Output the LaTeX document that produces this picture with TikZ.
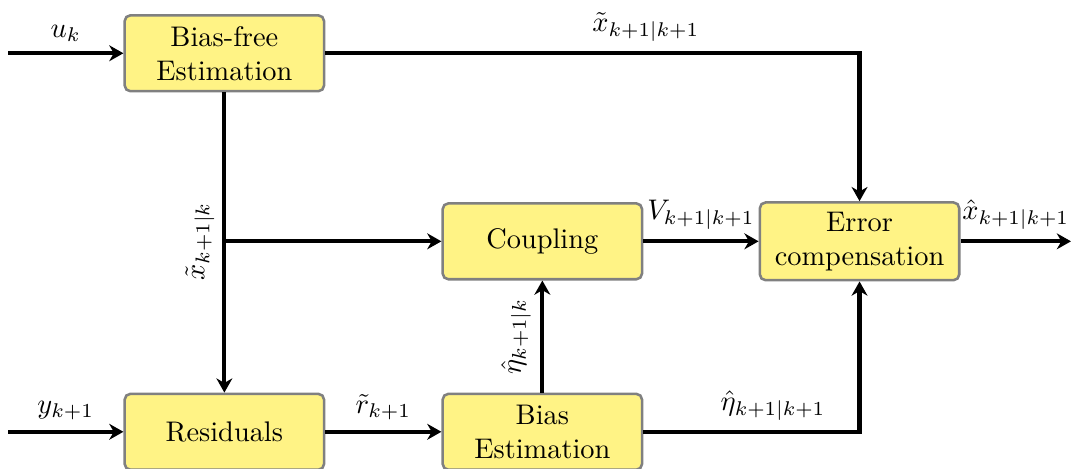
\documentclass[tikz,border=0pt]{standalone}
\usepackage{amsmath}
\usetikzlibrary{arrows.meta}
\definecolor{boxyellow}{RGB}{255,243,133}
\tikzset{block/.style = {draw=gray, line width=0.9pt, fill=boxyellow, rounded corners=2pt, minimum width=2.47cm, minimum height=0.94cm, align=center}}
\tikzset{flow/.style = {line width=1.45pt, -{Stealth[length=5pt, width=5.6pt, inset=1.6pt]}}}

\begin{document}
\begin{tikzpicture}
    \useasboundingbox (0,0) rectangle (13.27,-5.80);
    % blocks
    \node[block] (bf) at (2.78,-0.66) {Bias-free\\Estimation};
    \node[block] (cp) at (6.72,-2.99) {Coupling};
    \node[block] (ec) at (10.65,-2.99) {Error\\compensation};
    \node[block] (res) at (2.78,-5.35) {Residuals};
    \node[block] (be) at (6.72,-5.35) {Bias\\Estimation};
    % free ends
    \coordinate (u) at (0.1,-0.66);
    \coordinate (y) at (0.1,-5.35);
    \coordinate (out) at (13.27,-2.99);
    \coordinate (br) at (bf.south |- cp.west);
    % connections
    \draw[flow] (u) -- node[above] {$u_k$} (bf);
    \draw[flow] (y) -- node[above] {$y_{k+1}$} (res);
    \draw[flow] (bf.east) -| node[pos=0.3, above] {$\tilde{x}_{k+1|k+1}$} (ec.north);
    \draw[flow] (bf.south) -- (res.north);
    \draw[flow] (br) -- (cp.west);
    \node[rotate=90, anchor=south] (xlab) at (br) {$\tilde{x}_{k+1|k}$};
    \draw[flow] (cp) -- node[above] {$V_{k+1|k+1}$} (ec);
    \draw[flow] (res) -- node[above] {$\tilde{r}_{k+1}$} (be);
    \draw[flow] (be.north) -- node[rotate=90, above] {$\hat{\eta}_{k+1|k}$} (cp.south);
    \draw[flow] (be.east) -| node[pos=0.3, above] {$\hat{\eta}_{k+1|k+1}$} (ec.south);
    \draw[flow] (ec) -- node[above] {$\hat{x}_{k+1|k+1}$} (out);
\end{tikzpicture}
\end{document}
